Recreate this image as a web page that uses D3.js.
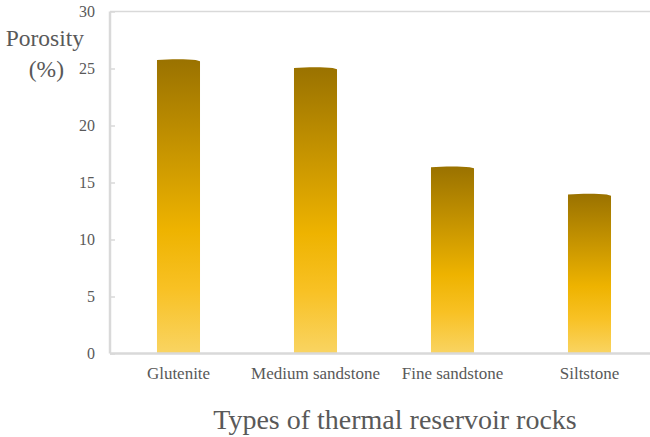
<!DOCTYPE html>
<html>
<head>
<meta charset="utf-8">
<script src="https://cdn.jsdelivr.net/npm/d3@7"></script>
<style>
  html, body { margin: 0; padding: 0; background: #fff; }
  svg { display: block; }
  svg text { font-family: 'Liberation Serif', 'Times New Roman', serif !important; fill: #595959; }
</style>
</head>
<body>
<svg id="chart" width="650" height="437"></svg>
<script>
// Porosity of thermal reservoir rock types
const categories = ["Glutenite", "Medium sandstone", "Fine sandstone", "Siltstone"];
const porosity = [25.8, 25.1, 16.4, 14.0];
const yTicks = [0, 5, 10, 15, 20, 25, 30];

const W = 650, H = 437;
const mLeft = 110, mRight = 658, mTop = 11.5, mBottom = 353.5;
const SERIF = "'Liberation Serif', 'Times New Roman', serif";

const svg = d3.select("#chart");

const x = d3.scaleBand()
  .domain(categories)
  .range([mLeft, mRight])
  .paddingInner(0.686)
  .paddingOuter(0.343);

const y = d3.scaleLinear().domain([0, 30]).range([mBottom, mTop]);

// vertical gradient for the bars: dark olive at the top to pale gold at the base
const defs = svg.append("defs");
const grad = defs.append("linearGradient")
  .attr("id", "barGrad")
  .attr("gradientUnits", "objectBoundingBox")
  .attr("x1", 0).attr("y1", 0).attr("x2", 0).attr("y2", 1);
grad.append("stop").attr("offset", "0%").attr("stop-color", "#9a7200");
grad.append("stop").attr("offset", "58%").attr("stop-color", "#eeb300");
grad.append("stop").attr("offset", "78%").attr("stop-color", "#f8c124");
grad.append("stop").attr("offset", "100%").attr("stop-color", "#f9d462");

// plot frame: top border line
svg.append("line")
  .attr("x1", mLeft).attr("x2", W)
  .attr("y1", mTop).attr("y2", mTop)
  .attr("stroke", "#d9d9d9").attr("stroke-width", 1.5);

// bars with a slightly rounded cap
const bw = x.bandwidth();
svg.append("g").selectAll("path")
  .data(categories.map((c, i) => ({ c, v: porosity[i] })))
  .join("path")
  .attr("d", d => {
    const x0 = x(d.c), x1 = x0 + bw, yt = y(d.v);
    return `M${x0},${mBottom} L${x0},${yt + 0.6} ` +
           `C${x0 + bw * 0.3},${yt - 0.3} ${x0 + bw * 0.7},${yt - 0.3} ${x0 + bw * 0.9},${yt + 0.6} ` +
           `L${x1},${yt + 1.8} L${x1},${mBottom} Z`;
  })
  .attr("fill", "url(#barGrad)");

// y axis
const yAxis = d3.axisLeft(y).tickValues(yTicks).tickSize(-5).tickPadding(15).tickFormat(d3.format("d"));
const gy = svg.append("g").attr("transform", `translate(${mLeft},0)`).call(yAxis)
  .attr("font-family", SERIF);
gy.select(".domain").attr("stroke", "#d9d9d9").attr("stroke-width", 2.5)
  .attr("d", `M0,${mTop}V${mBottom}`);
gy.selectAll(".tick line").attr("stroke", "#d9d9d9").attr("stroke-width", 1.5);
gy.selectAll(".tick text").attr("font-size", 16).attr("fill", "#595959");

// x axis
const xAxis = d3.axisBottom(x).tickSize(0).tickPadding(13);
const gx = svg.append("g").attr("transform", `translate(0,${mBottom})`).call(xAxis)
  .attr("font-family", SERIF);
gx.select(".domain").attr("stroke", "#d9d9d9").attr("stroke-width", 2.5)
  .attr("d", `M${mLeft},0H${W}`);
gx.selectAll(".tick text").attr("font-size", 17).attr("fill", "#595959");

// axis titles
svg.append("text")
  .attr("x", 84).attr("y", 46)
  .attr("text-anchor", "end")
  .attr("font-family", SERIF)
  .attr("font-size", 23.5)
  .text("Porosity");
svg.append("text")
  .attr("x", 64).attr("y", 77)
  .attr("text-anchor", "end")
  .attr("font-family", SERIF)
  .attr("font-size", 23.5)
  .text("(%)");

svg.append("text")
  .attr("x", 395).attr("y", 429)
  .attr("text-anchor", "middle")
  .attr("font-family", SERIF)
  .attr("font-size", 28)
  .text("Types of thermal reservoir rocks");
</script>
</body>
</html>
